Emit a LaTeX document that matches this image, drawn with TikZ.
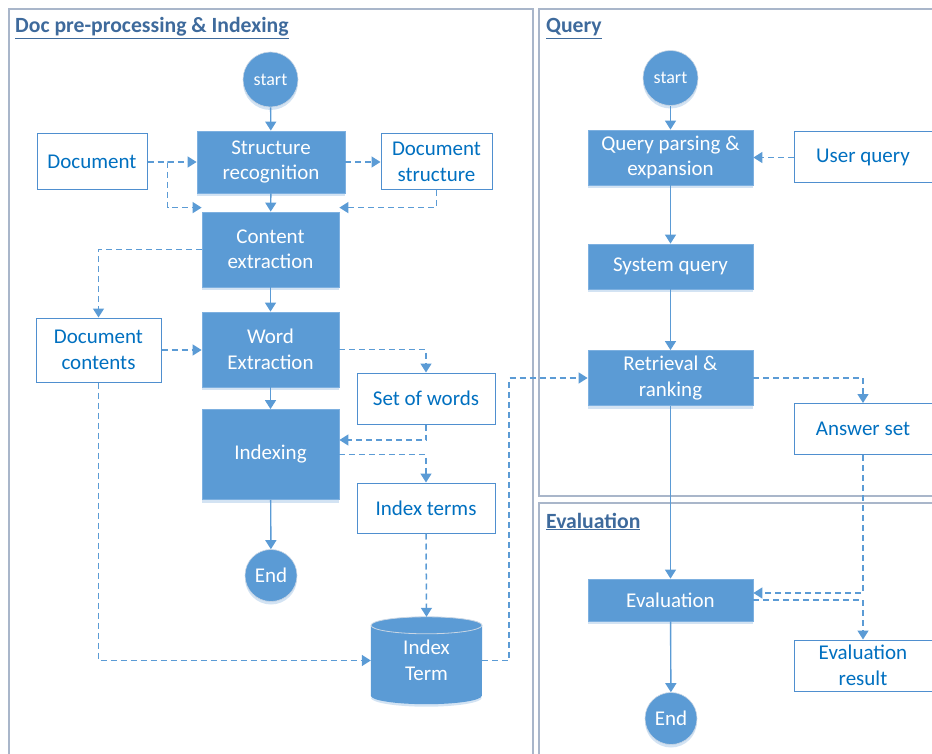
\documentclass[tikz,border=0pt]{standalone}
\usepackage{fontspec}
\setmainfont{Carlito}
\usetikzlibrary{arrows.meta,calc,shadows}

\definecolor{boxfill}{HTML}{5B9BD5}
\definecolor{boxedge}{HTML}{7DB0E0}
\definecolor{linec}{HTML}{5B9BD5}
\definecolor{outedge}{HTML}{4F8FCF}
\definecolor{outtext}{HTML}{0070C0}
\definecolor{panelc}{HTML}{A9B6CA}
\definecolor{titlec}{HTML}{3E6A9C}
\definecolor{shadowc}{HTML}{D3E3F3}
\definecolor{rimc}{HTML}{C9D6E4}

\begin{document}
\begin{tikzpicture}[x=1pt,y=-1pt,
  font=\fontsize{21}{25.5}\selectfont,
  panel/.style={draw=panelc, line width=1.4pt},
  title/.style={font=\fontsize{21.7}{26}\selectfont\bfseries, text=titlec, inner sep=0pt, anchor=base west},
  boxshadow/.style={drop shadow={shadow xshift=0pt, shadow yshift=-3pt, fill=shadowc, opacity=1}},
  proc/.style={rectangle, fill=boxfill, draw=boxedge, line width=0.8pt, text=white,
    align=center, inner sep=0pt, boxshadow},
  plain/.style={rectangle, fill=white, draw=outedge, line width=1pt, text=outtext,
    align=center, inner sep=0pt},
  term/.style={circle, fill=boxfill, draw=rimc, line width=0.6pt, text=white, inner sep=0pt, boxshadow},
  startc/.style={term, minimum size=55pt, font=\fontsize{18}{22}\selectfont},
  endc/.style={term, minimum size=52pt},
  flow/.style={draw=linec, line width=1.4pt, -{Triangle[length=9pt,width=11pt]}},
  dflow/.style={flow, line width=1.5pt, dash pattern=on 6pt off 4pt}
]
\useasboundingbox (0,0) rectangle (932,754);
\clip (0,0) rectangle (932,754);

% swimlane panels
\draw[panel] (9,9) rectangle (533,775);
\draw[panel] (539,9) rectangle (950,496);
\draw[panel] (539,503) rectangle (950,775);

\node[title] (t1) at (15,33) {\underline{Doc pre-processing \& Indexing}};
\node[title] (t2) at (546,33) {\underline{Query}};
\node[title] (t3) at (546,528) {\underline{Evaluation}};

% document pre-processing and indexing
\node[startc] (s1) at (270.5,79.5) {start};
\node[proc, minimum width=148pt, minimum height=62pt] (sr) at (271,162) {Structure\\recognition};
\node[plain, minimum width=110pt, minimum height=56pt] (doc) at (92,162) {Document};
\node[plain, minimum width=111pt, minimum height=56pt] (ds) at (436.5,162) {Document\\structure};
\node[proc, minimum width=137pt, minimum height=75pt] (ce) at (270.5,249.5) {Content\\extraction};
\node[plain, minimum width=125pt, minimum height=64pt] (dc) at (98.5,350) {Document\\contents};
\node[proc, minimum width=137pt, minimum height=75pt] (we) at (270.5,349.5) {Word\\Extraction};
\node[plain, minimum width=138pt, minimum height=51pt] (sow) at (426,398.5) {Set of words};
\node[proc, minimum width=137pt, minimum height=90pt] (ix) at (270.5,454.5) {Indexing};
\node[plain, minimum width=138pt, minimum height=50pt] (it) at (426,508) {Index terms};
\node[endc] (e1) at (271,575.5) {End};

% index term store (cylinder)
\node[minimum width=111pt, minimum height=87pt, inner sep=0pt] (idx) at (426.5,660.5) {};
\fill[shadowc] ($(idx.south west)+(0,6.5pt)$) arc[start angle=180, end angle=360, x radius=55.5pt, y radius=9pt] -- cycle;
\fill[boxfill] ($(idx.north west)+(0,-8.5pt)$) -- ($(idx.south west)+(0,8.5pt)$)
  arc[start angle=180, end angle=360, x radius=55.5pt, y radius=8.5pt]
  -- ($(idx.north east)+(0,-8.5pt)$)
  arc[start angle=0, end angle=180, x radius=55.5pt, y radius=8.5pt] -- cycle;
\draw[rimc, line width=0.8pt] ($(idx.north)+(0,-8.5pt)$) ellipse[x radius=55.5pt, y radius=8.5pt];
\node[text=white, align=center, inner sep=0pt] (idxlabel) at (idx.center) {Index\\Term};

% query
\node[startc] (s2) at (670.5,78) {start};
\node[proc, minimum width=165pt, minimum height=55pt] (qp) at (670.5,157.5) {Query parsing \&\\expansion};
\node[plain, minimum width=138pt, minimum height=51pt] (uq) at (863,157.5) {User query};
\node[proc, minimum width=165pt, minimum height=45pt] (sq) at (670.5,266.5) {System query};
\node[proc, minimum width=165pt, minimum height=55pt] (rr) at (670.5,378) {Retrieval \&\\ranking};
\node[plain, minimum width=138pt, minimum height=51pt] (as) at (863,429) {Answer set};

% evaluation
\node[proc, minimum width=165pt, minimum height=42pt] (ev) at (670.5,600) {Evaluation};
\node[plain, minimum width=138pt, minimum height=51pt] (er) at (863,665.5) {Evaluation\\result};
\node[endc] (e2) at (671,718.5) {End};

% main flow
\draw[flow] (s1) -- (sr);
\draw[flow] (sr) -- (ce);
\draw[flow] (ce) -- (we);
\draw[flow] (we) -- (ix);
\draw[flow] (ix) -- (e1);
\draw[flow] (s2) -- (qp);
\draw[flow] (qp) -- (sq);
\draw[flow] (sq) -- (rr);
\draw[flow] (rr) -- (ev);
\draw[flow] (ev) -- (e2);

% data flow
\draw[dflow] (doc.east) -- (sr.west);
\draw[dflow] (doc.east) -- ++(20,0) |- ($(ce.north west)+(0,-4)$);
\draw[dflow] (sr.east) -- (ds.west);
\draw[dflow] (ds.south) |- ($(ce.north east)+(0,-4)$);
\draw[dflow] (ce.west) -| (dc.north);
\draw[dflow] (dc.east) -- (dc.east -| we.west);
\draw[dflow] (we.east) -| (sow.north);
\draw[dflow] (sow.south) |- ($(ix.east)+(0,-14.5)$);
\draw[dflow] (ix.east) -| (it.north);
\draw[dflow] (it.south) -- (idx.north);
\draw[dflow] (dc.south) |- (idx.west);
\draw[dflow] (idx.east) -- ++(27,0) |- (rr.west);
\draw[dflow] (uq.west) -- (qp.east);
\draw[dflow] (rr.east) -| (as.north);
\draw[dflow] (as.south) |- ($(ev.east)+(0,-7)$);
\draw[dflow] (ev.east) -| (er.north);
\end{tikzpicture}
\end{document}
